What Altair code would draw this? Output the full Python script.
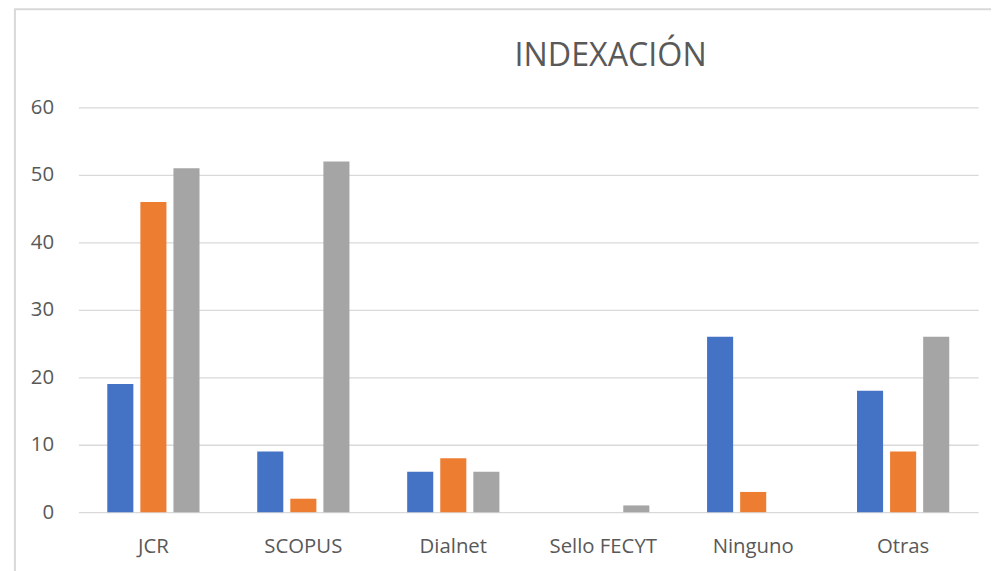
import altair as alt
import pandas as pd

categories = ["JCR", "SCOPUS", "Dialnet", "Sello FECYT", "Ninguno", "Otras"]
series_names = ["Serie1", "Serie2", "Serie3"]
serie1 = [19, 9, 6, 0, 26, 18]
serie2 = [46, 2, 8, 0, 3, 9]
serie3 = [51, 52, 6, 1, 0, 26]
colors = ["#4472C4", "#ED7D31", "#A5A5A5"]

rows = []
for name, vals in zip(series_names, [serie1, serie2, serie3]):
    for c, v in zip(categories, vals):
        rows.append({"categoria": c, "serie": name, "valor": v})
df = pd.DataFrame(rows)

FONT = "Open Sans"
TXT = "#595959"
W, H = 907, 408

bars = alt.Chart(df).mark_bar().encode(
    x=alt.X("categoria:N", sort=categories, title=None,
            scale=alt.Scale(paddingInner=0.385, paddingOuter=0.1925),
            axis=alt.Axis(labelAngle=0, labelFont=FONT, labelFontSize=20.5,
                          labelColor=TXT, ticks=False, domain=False,
                          labelPadding=25, grid=False)),
    xOffset=alt.XOffset("serie:N", sort=series_names,
                        scale=alt.Scale(paddingInner=0.212, paddingOuter=0)),
    y=alt.Y("valor:Q", title=None,
            scale=alt.Scale(domain=[0, 60], nice=False),
            axis=alt.Axis(values=[0, 10, 20, 30, 40, 50, 60], labelFont=FONT,
                          labelFontSize=20.5, labelColor=TXT, ticks=False,
                          domain=False, labelPadding=25, gridColor="#D9D9D9",
                          gridWidth=1.3)),
    color=alt.Color("serie:N", sort=series_names,
                    scale=alt.Scale(domain=series_names, range=colors),
                    legend=None),
)

border = alt.Chart(pd.DataFrame({"k": [0]})).mark_rect(
    fill=None, stroke="#D9D9D9", strokeWidth=2, clip=False
).encode(
    x=alt.value(-64), x2=alt.value(W + 40),
    y=alt.value(-99), y2=alt.value(H + 80),
)

chart = alt.layer(border, bars).properties(
    width=W, height=H,
    title=alt.TitleParams("INDEXACIÓN", font=FONT, fontSize=32.5,
                          fontWeight="normal", color=TXT, anchor="middle",
                          frame="group", dx=83, offset=-65),
    autosize=alt.AutoSizeParams(type="none"),
    padding={"left": 71, "top": 98, "right": 13, "bottom": 57},
).configure_view(stroke=None)

chart.save("out.html", embed_options={"renderer": "svg", "actions": False})
